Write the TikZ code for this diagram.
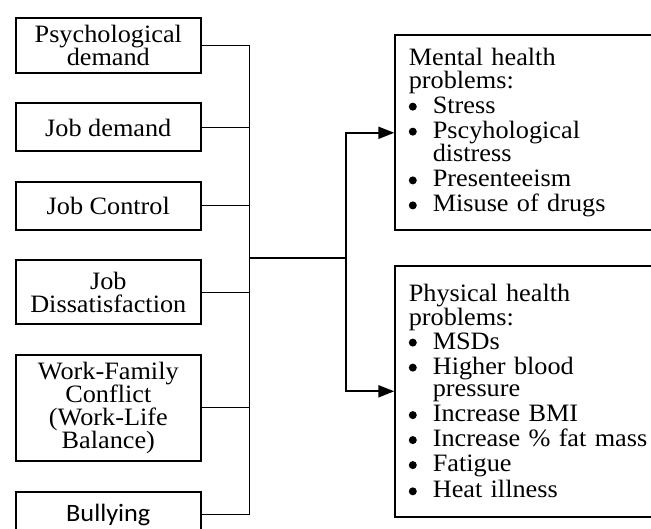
\documentclass[tikz,border=0pt]{standalone}
\usepackage{fontspec}
\setmainfont{Liberation Serif}[FakeStretch=1.05]
\newfontfamily\bullyfont{Carlito}[FakeStretch=1.05]
\usetikzlibrary{positioning,arrows.meta}

\newcommand{\dotmark}{\raisebox{2.5pt}{\tikz\fill (0,0) circle (4pt);}}
\newcommand{\ailment}[1]{\makebox[24pt][l]{\dotmark}#1}
\newcommand{\ailmore}[1]{\hspace*{24pt}#1}

\begin{document}
\begin{tikzpicture}[x=1pt,y=-1pt,
  cause/.style={draw,line width=2pt,minimum width=184.7pt,inner sep=0pt,
    align=center,font=\fontsize{25}{23}\selectfont},
  effect/.style={draw,line width=2pt,text width=250pt,inner xsep=13.5pt,
    inner ysep=0pt,align=left,font=\fontsize{25}{22.5}\selectfont},
  link/.style={line width=1pt},
  feed/.style={line width=2pt,-{Triangle[length=16pt,width=12pt]}},
  node distance=28.5pt]
\useasboundingbox (0,0) rectangle (651,529);
\clip (0,0) rectangle (651,529);
% causes
\node [cause,minimum height=55pt,anchor=north] (psych) at (108.3,17) {Psychological\\demand};
\node [cause,minimum height=48pt,below=of psych] (jobdem) {Job demand};
\node [cause,minimum height=48pt,below=of jobdem] (jobctl) {Job Control};
\node [cause,minimum height=64pt,below=of jobctl] (dissat) {Job\\Dissatisfaction};
\node [cause,minimum height=106pt,below=of dissat] (wfc) {Work-Family\\Conflict\\(Work-Life\\Balance)};
\node [cause,minimum height=46pt,below=of wfc,font=\fontsize{25}{23}\bullyfont] (bully) {Bullying};
% effects
\node [effect,minimum height=195pt,anchor=north west] (mental) at (394.3,34.3)
  {Mental health\\problems:\\[2.5pt]
   \ailment{Stress}\\[2.5pt]
   \ailment{Pscyhological}\\
   \ailmore{distress}\\[2.5pt]
   \ailment{Presenteeism}\\[2.5pt]
   \ailment{Misuse of drugs}};
\node [effect,minimum height=251.4pt,below right=33.3pt and 0pt of mental.south west] (physical)
  {Physical health\\problems:\\[1pt]
   \ailment{MSDs}\\[2.5pt]
   \ailment{Higher blood}\\
   \ailmore{pressure}\\[2.5pt]
   \ailment{Increase BMI}\\[2.5pt]
   \ailment{Increase \% fat mass}\\[2.5pt]
   \ailment{Fatigue}\\[2.5pt]
   \ailment{Heat illness}};
% connectors
\coordinate (bus) at (249,258);
\coordinate (split) at (346,258);
\foreach \n in {psych,jobdem,jobctl,dissat,wfc,bully}
  \draw [link] (\n.east) -- (\n.east -| bus);
\draw [link] (psych.east -| bus) -- (bully.east -| bus);
\draw [line width=1.5pt] (bus) -- (split);
\draw [feed] (split) |- (mental.west);
\draw [feed] (split) |- (physical.west);
\end{tikzpicture}
\end{document}
